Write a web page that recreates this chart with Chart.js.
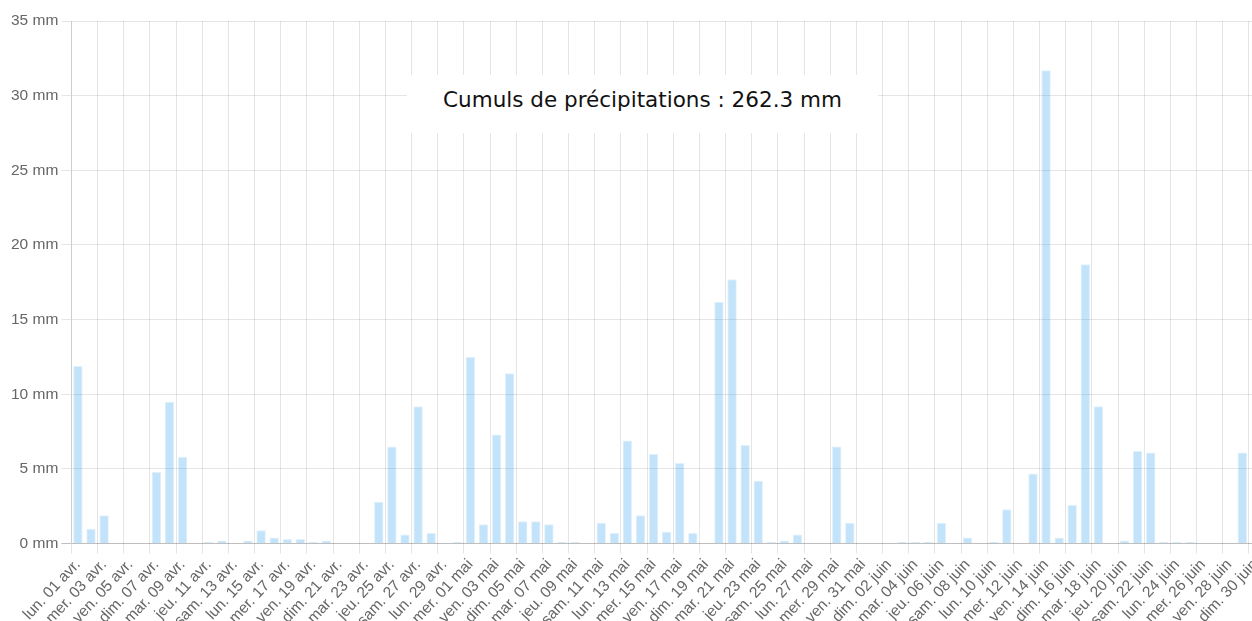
<!DOCTYPE html>
<html lang="fr">
<head>
<meta charset="utf-8">
<title>Précipitations</title>
<script src="https://cdn.jsdelivr.net/npm/chart.js@4/dist/chart.umd.min.js"></script>
<style>
    html, body { margin: 0; padding: 0; background: #fff; overflow: hidden; }
    #wrap { position: absolute; left: 0; top: 0; width: 1271px; height: 632px; }
    #cumul {
        position: absolute; left: 407px; top: 75px; width: 471px; height: 58px;
        box-sizing: border-box; padding-top: 12px; background: #fff;
        font-family: Verdana, "DejaVu Sans", sans-serif; font-size: 21.5px; line-height: 25px;
        color: #111; text-align: center; white-space: nowrap;
    }
</style>
</head>
<body>
<div id="wrap">
    <canvas id="rainChart"></canvas>
    <div id="cumul">Cumuls de précipitations : 262.3 mm</div>
</div>
<script>
// Day labels, one list per month
var labelsAvril = ["lun. 01 avr.", "mar. 02 avr.", "mer. 03 avr.", "jeu. 04 avr.", "ven. 05 avr.", "sam. 06 avr.", "dim. 07 avr.",
    "lun. 08 avr.", "mar. 09 avr.", "mer. 10 avr.", "jeu. 11 avr.", "ven. 12 avr.", "sam. 13 avr.", "dim. 14 avr.",
    "lun. 15 avr.", "mar. 16 avr.", "mer. 17 avr.", "jeu. 18 avr.", "ven. 19 avr.", "sam. 20 avr.", "dim. 21 avr.",
    "lun. 22 avr.", "mar. 23 avr.", "mer. 24 avr.", "jeu. 25 avr.", "ven. 26 avr.", "sam. 27 avr.", "dim. 28 avr.",
    "lun. 29 avr.", "mar. 30 avr."];
var labelsMai = ["mer. 01 mai", "jeu. 02 mai", "ven. 03 mai", "sam. 04 mai", "dim. 05 mai",
    "lun. 06 mai", "mar. 07 mai", "mer. 08 mai", "jeu. 09 mai", "ven. 10 mai", "sam. 11 mai", "dim. 12 mai",
    "lun. 13 mai", "mar. 14 mai", "mer. 15 mai", "jeu. 16 mai", "ven. 17 mai", "sam. 18 mai", "dim. 19 mai",
    "lun. 20 mai", "mar. 21 mai", "mer. 22 mai", "jeu. 23 mai", "ven. 24 mai", "sam. 25 mai", "dim. 26 mai",
    "lun. 27 mai", "mar. 28 mai", "mer. 29 mai", "jeu. 30 mai", "ven. 31 mai"];
var labelsJuin = ["sam. 01 juin", "dim. 02 juin",
    "lun. 03 juin", "mar. 04 juin", "mer. 05 juin", "jeu. 06 juin", "ven. 07 juin", "sam. 08 juin", "dim. 09 juin",
    "lun. 10 juin", "mar. 11 juin", "mer. 12 juin", "jeu. 13 juin", "ven. 14 juin", "sam. 15 juin", "dim. 16 juin",
    "lun. 17 juin", "mar. 18 juin", "mer. 19 juin", "jeu. 20 juin", "ven. 21 juin", "sam. 22 juin", "dim. 23 juin",
    "lun. 24 juin", "mar. 25 juin", "mer. 26 juin", "jeu. 27 juin", "ven. 28 juin", "sam. 29 juin", "dim. 30 juin"];

// Daily rainfall (mm)
var pluieAvril = [11.9, 1.0, 1.9, 0, 0, 0, 4.8, 9.5, 5.8, 0, 0.1, 0.2, 0, 0.2, 0.9, 0.4, 0.3, 0.3, 0.1, 0.2,
    0, 0, 0, 2.8, 6.5, 0.6, 9.2, 0.7, 0, 0.1];
var pluieMai = [12.5, 1.3, 7.3, 11.4, 1.5, 1.5, 1.3, 0.1, 0.1, 0, 1.4, 0.7, 6.9, 1.9, 6.0, 0.8, 5.4, 0.7, 0,
    16.2, 17.7, 6.6, 4.2, 0.1, 0.2, 0.6, 0, 0, 6.5, 1.4, 0];
var pluieJuin = [0, 0, 0.1, 0.1, 0.1, 1.4, 0, 0.4, 0, 0.1, 2.3, 0, 4.7, 31.7, 0.4, 2.6, 18.7, 9.2, 0, 0.2,
    6.2, 6.1, 0.1, 0.1, 0.1, 0, 0, 0, 6.1, 0];

var yMax = 35;
var yStep = 5;
var unite = "mm";

var labels = labelsAvril.concat(labelsMai, labelsJuin);
var pluie = pluieAvril.concat(pluieMai, pluieJuin);

var gridColor = 'rgba(0,0,0,0.1)';
var zeroColor = 'rgba(0,0,0,0.25)';

new Chart(document.getElementById('rainChart'), {
    type: 'bar',
    data: {
        labels: labels,
        datasets: [{
            label: 'Précipitations',
            data: pluie,
            backgroundColor: 'rgba(54,162,235,0.3)',
            borderColor: 'rgba(54,162,235,0.15)',
            borderWidth: 1
        }]
    },
    options: {
        responsive: true,
        maintainAspectRatio: false,
        animation: false,
        layout: { padding: { left: 8, right: 2, top: 21, bottom: 0 } },
        plugins: {
            legend: { display: false },
            tooltip: { enabled: false }
        },
        scales: {
            x: {
                border: { display: false },
                grid: {
                    tickLength: 10,
                    color: function(ctx) {
                        // only every other day carries a label and a line
                        return ctx.index % 2 === 0 ? gridColor : 'rgba(0,0,0,0)';
                    }
                },
                ticks: {
                    autoSkip: false,
                    minRotation: 47,
                    maxRotation: 47,
                    padding: 2,
                    color: '#666',
                    font: { family: "'Helvetica Neue', Helvetica, Arial, 'Liberation Sans', sans-serif", size: 15.5 },
                    callback: function(value, index) {
                        return index % 2 === 0 ? this.getLabelForValue(value) : '';
                    }
                }
            },
            y: {
                min: 0,
                max: yMax,
                border: { color: gridColor },
                grid: {
                    tickLength: 10,
                    color: function(ctx) {
                        return ctx.tick && ctx.tick.value === 0 ? zeroColor : gridColor;
                    }
                },
                ticks: {
                    stepSize: yStep,
                    padding: 3,
                    color: '#666',
                    font: { family: "'Helvetica Neue', Helvetica, Arial, 'Liberation Sans', sans-serif", size: 15.5 },
                    callback: function(value) { return value + ' ' + unite; }
                }
            }
        }
    }
});
</script>
</body>
</html>
